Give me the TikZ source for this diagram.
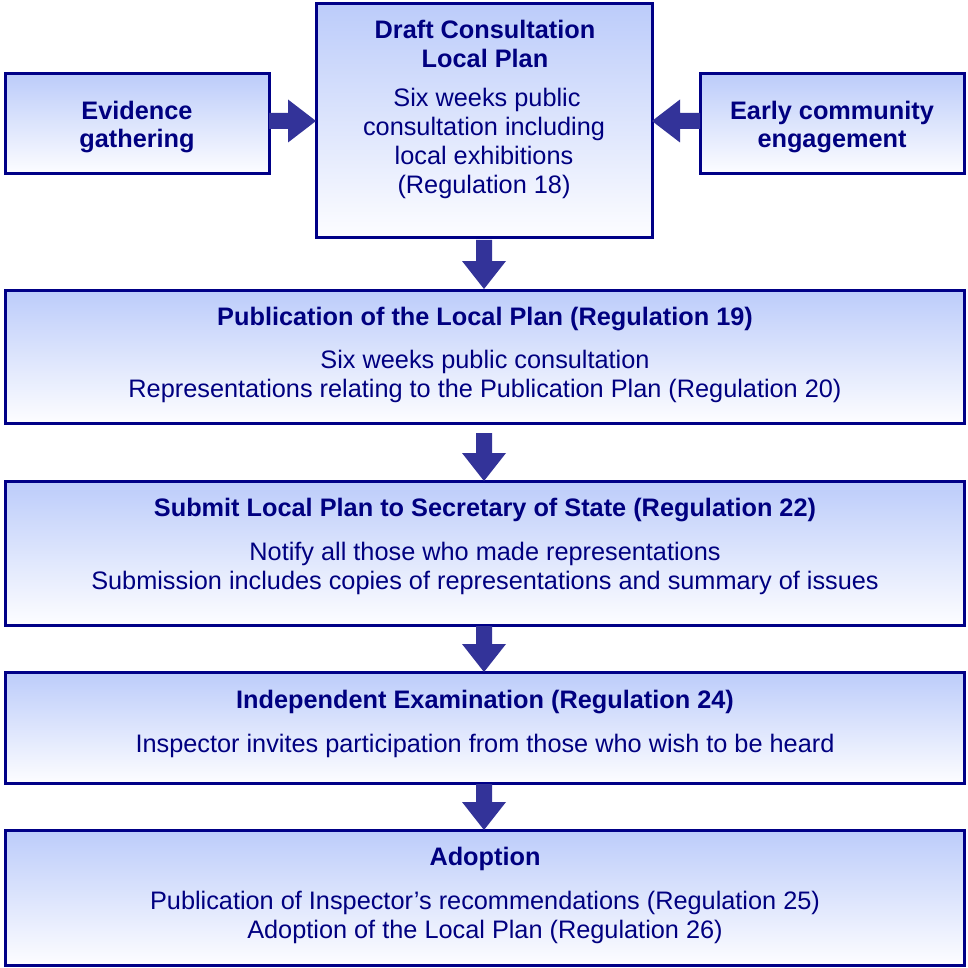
\documentclass[tikz,border=0pt]{standalone}
\usepackage{fontspec}
\setmainfont{Liberation Sans}
\usetikzlibrary{calc}
\definecolor{navyline}{RGB}{0,0,135}
\definecolor{navytext}{RGB}{0,0,128}
\definecolor{arrowc}{RGB}{51,51,153}
\definecolor{boxtop}{RGB}{188,204,250}
\definecolor{boxbot}{RGB}{253,253,255}
\newcommand\blkdown[2]{\fill[arrowc] let \p1=(#1), \p2=(#2) in
  (\x2-8pt,\y1) -- (\x2+8pt,\y1) -- (\x2+8pt,\y2+28pt) -- (\x2+22pt,\y2+28pt)
  -- (\x2,\y2) -- (\x2-22pt,\y2+28pt) -- (\x2-8pt,\y2+28pt) -- cycle;}
\newcommand\blkright[2]{\fill[arrowc] let \p1=(#1), \p2=(#2) in
  (\x1,\y2+8pt) -- (\x2-28pt,\y2+8pt) -- (\x2-28pt,\y2+21.5pt) -- (\x2,\y2)
  -- (\x2-28pt,\y2-21.5pt) -- (\x2-28pt,\y2-8pt) -- (\x1,\y2-8pt) -- cycle;}
\newcommand\blkleft[2]{\fill[arrowc] let \p1=(#1), \p2=(#2) in
  (\x1,\y2+8pt) -- (\x2+28pt,\y2+8pt) -- (\x2+28pt,\y2+21.5pt) -- (\x2,\y2)
  -- (\x2+28pt,\y2-21.5pt) -- (\x2+28pt,\y2-8pt) -- (\x1,\y2-8pt) -- cycle;}
\begin{document}
\begin{tikzpicture}[x=1pt,y=-1pt,
  box/.style={draw=navyline, line width=3pt, top color=boxtop, bottom color=boxbot,
    rectangle, inner sep=0pt, outer sep=0pt},
  ttl/.style={anchor=base, inner sep=0pt, text=navytext, font=\fontsize{25.3}{29}\selectfont\bfseries},
  bdy/.style={anchor=base, inner sep=0pt, text=navytext, font=\fontsize{25.3}{29}\selectfont}]
\useasboundingbox[fill=white] (0,0) rectangle (967,968);
% boxes
\node[box, minimum width=264pt, minimum height=100pt] (ev) at (137,124) {};
\node[box, minimum width=336pt, minimum height=234pt] (dr) at (484,121) {};
\node[box, minimum width=264pt, minimum height=100pt] (ea) at (832,124) {};
\node[box, minimum width=959pt, minimum height=133pt] (pub) at (484.5,356.5) {};
\node[box, minimum width=959pt, minimum height=144pt] (sub) at (484.5,553) {};
\node[box, minimum width=959pt, minimum height=111pt] (ind) at (484.5,727.5) {};
\node[box, minimum width=959pt, minimum height=135pt] (ado) at (484.5,897.5) {};
% texts
\node[ttl] (ev1) at (137,119.3) {Evidence};
\node[ttl] (ev2) at (137,147.5) {gathering};
\node[ttl] (ea1) at (832,119.3) {Early community};
\node[ttl] (ea2) at (832,147.5) {engagement};
\node[ttl] (dr1) at (485,38.3) {Draft Consultation};
\node[ttl] (dr2) at (485,67.3) {Local Plan};
\node[bdy] (dr3) at (487,106.7) {Six weeks public};
\node[bdy] (dr4) at (484,135.5) {consultation including};
\node[bdy] (dr5) at (484,164.5) {local exhibitions};
\node[bdy] (dr6) at (484,193.3) {(Regulation 18)};
\node[ttl] (pub1) at (485,325) {Publication of the Local Plan (Regulation 19)};
\node[bdy] (pub2) at (485,368) {Six weeks public consultation};
\node[bdy] (pub3) at (485,397.3) {Representations relating to the Publication Plan (Regulation 20)};
\node[ttl] (sub1) at (485,516.7) {Submit Local Plan to Secretary of State (Regulation 22)};
\node[bdy] (sub2) at (485,560) {Notify all those who made representations};
\node[bdy] (sub3) at (485,589.3) {Submission includes copies of representations and summary of issues};
\node[ttl] (ind1) at (485,708.7) {Independent Examination (Regulation 24)};
\node[bdy] (ind2) at (485,752.5) {Inspector invites participation from those who wish to be heard};
\node[ttl] (ado1) at (485,865.7) {Adoption};
\node[bdy] (ado2) at (485,909) {Publication of Inspector’s recommendations (Regulation 25)};
\node[bdy] (ado3) at (485,938.3) {Adoption of the Local Plan (Regulation 26)};
% arrows
\blkright{ev.east}{$(dr.west)+(0,0)$}
\blkleft{ea.west}{$(dr.east)+(0,0)$}
\blkdown{$(dr.south)+(0,2)$}{$(pub.north)+(-0.5,-1)$}
\blkdown{$(pub.south)+(0,10)$}{$(sub.north)+(-0.5,0)$}
\blkdown{$(sub.south)+(0,1)$}{$(ind.north)+(-0.5,0)$}
\blkdown{$(ind.south)+(0,1)$}{$(ado.north)+(-0.5,0)$}
\end{tikzpicture}
\end{document}
